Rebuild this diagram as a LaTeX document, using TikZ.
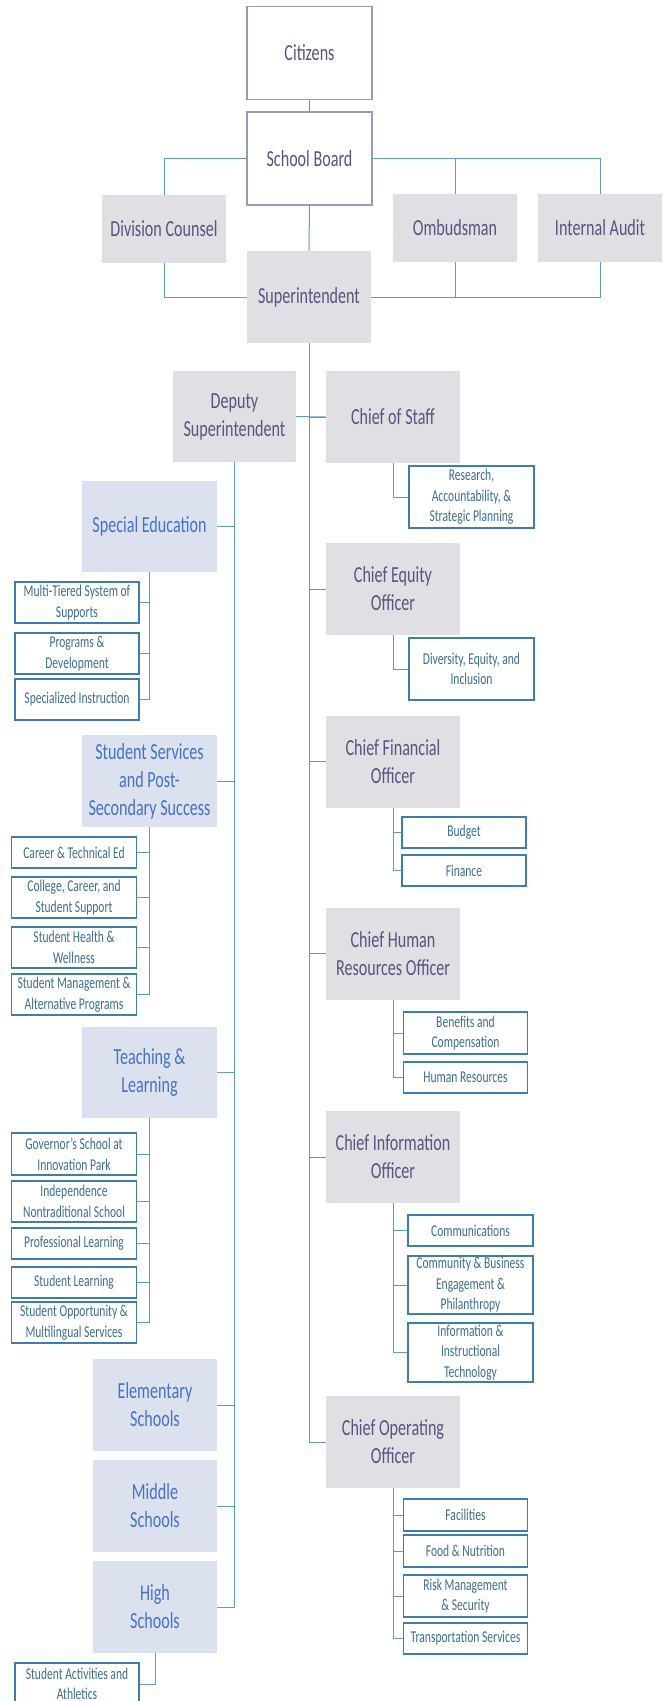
\documentclass[tikz,border=0pt]{standalone}
\usepackage{fontspec}
\setmainfont[FakeStretch=0.7]{Carlito}
\definecolor{linkblue}{HTML}{5B9BD5}
\definecolor{headline}{HTML}{9C99BE}
\definecolor{headtext}{HTML}{57557F}
\definecolor{chieffill}{HTML}{E0DFE4}
\definecolor{unitfill}{HTML}{DCE1F0}
\definecolor{unittext}{HTML}{4472C4}
\definecolor{officeline}{HTML}{3F7DAA}
\definecolor{officetext}{HTML}{3D6F90}
\begin{document}
\begin{tikzpicture}[x=1pt,y=-1pt,
  big/.style={font=\fontsize{23}{28}\selectfont,align=center,inner sep=0pt},
  head/.style={big,draw=headline,line width=1.2pt,fill=white,text=headtext,minimum width=125pt,minimum height=93pt},
  chief/.style={big,fill=chieffill,text=headtext,minimum width=134pt,minimum height=92pt},
  unit/.style={big,fill=unitfill,text=unittext,minimum width=135pt,minimum height=91pt},
  office/.style={draw=officeline,line width=1.1pt,fill=white,text=officetext,font=\fontsize{16.5}{20.5}\selectfont,align=center,inner sep=0pt,minimum width=124pt},
  link/.style={draw=linkblue,line width=1pt}]
\useasboundingbox (0,0) rectangle (665,1701);
% top of the chart
\node[head] (cit) at (309.5,53) {Citizens};
\node[head] (board) at (309.5,158.5) {School Board};
\node[chief,minimum width=124pt,minimum height=68pt] (counsel) at (164,229) {Division Counsel};
\node[chief,minimum width=124pt,minimum height=68pt] (ombud) at (455,228) {Ombudsman};
\node[chief,minimum width=124pt,minimum height=68pt] (audit) at (600,228) {Internal Audit};
\node[chief,minimum width=124pt] (supt) at (309,297) {Superintendent};
\draw[link] (cit) to (board);
\draw[link] (board) to (supt);
\draw[link] (board.west) -| (counsel.north);
\draw[link] (board.east) -| (ombud.north);
\draw[link] (board.east) -| (audit.north);
\draw[link] (counsel.south) |- (supt.west);
\draw[link] (ombud.south) |- (supt.east);
\draw[link] (audit.south) |- (supt.east);
% chiefs
\node[chief,minimum width=123pt,minimum height=91pt] (deputy) at (234.5,416.5) {Deputy\\Superintendent};
\node[chief] (staff) at (393,417) {Chief of Staff};
\node[chief] (equity) at (393,589) {Chief Equity\\Officer};
\node[chief] (cfo) at (393,761.5) {Chief Financial\\Officer};
\node[chief] (chro) at (393,953.5) {Chief Human\\Resources Officer};
\node[chief] (cio) at (393,1157) {Chief Information\\Officer};
\node[chief] (coo) at (393,1442) {Chief Operating\\Officer};
\draw[link] (deputy.east) to (staff.west);
\foreach \c in {staff,equity,cfo,chro,cio,coo}
  \draw[link] (supt.south) |- (\c.west);
% offices under the chiefs
\node[office,minimum width=125pt,minimum height=62pt] (research) at (471.5,497) {Research,\\Accountability, \&\\Strategic Planning};
\node[office,minimum width=125pt,minimum height=62pt] (diversity) at (471.5,669) {Diversity, Equity, and\\Inclusion};
\node[office,minimum height=31pt] (budget) at (464,832.5) {Budget};
\node[office,minimum height=31pt] (finance) at (464,870.5) {Finance};
\node[office,minimum height=42pt] (benefits) at (465.5,1033) {Benefits and\\Compensation};
\node[office,minimum height=31pt] (hr) at (465.5,1077.5) {Human Resources};
\node[office,minimum width=125pt,minimum height=31pt] (comms) at (470.5,1230.5) {Communications};
\node[office,minimum width=125pt,minimum height=58pt] (community) at (470.5,1285) {Community \& Business\\Engagement \&\\Philanthropy};
\node[office,minimum width=125pt,minimum height=59pt] (infotech) at (470.5,1352.5) {Information \&\\Instructional\\Technology};
\node[office,minimum height=32pt] (facilities) at (465.5,1515) {Facilities};
\node[office,minimum height=32pt] (food) at (465.5,1551) {Food \& Nutrition};
\node[office,minimum height=42pt] (risk) at (465.5,1596) {Risk Management\\\& Security};
\node[office,minimum height=31pt] (transport) at (465.5,1638.5) {Transportation Services};
\draw[link] (staff.south) |- (research.west);
\draw[link] (equity.south) |- (diversity.west);
\draw[link] (cfo.south) |- (budget.west);
\draw[link] (cfo.south) |- (finance.west);
\draw[link] (chro.south) |- (benefits.west);
\draw[link] (chro.south) |- (hr.west);
\foreach \o in {comms,community,infotech}
  \draw[link] (cio.south) |- (\o.west);
\foreach \o in {facilities,food,risk,transport}
  \draw[link] (coo.south) |- (\o.west);
% units under the deputy
\node[unit] (sped) at (149.5,526.5) {Special Education};
\node[unit,minimum height=92pt] (stusvc) at (149.5,781) {Student Services\\and Post-\\Secondary Success};
\node[unit] (teach) at (149.5,1072.5) {Teaching \&\\Learning};
\node[unit,minimum width=124pt,minimum height=92pt] (elem) at (155,1405) {Elementary\\Schools};
\node[unit,minimum width=124pt,minimum height=92pt] (middle) at (155,1506) {Middle\\Schools};
\node[unit,minimum width=124pt,minimum height=92pt] (high) at (155,1607) {High\\Schools};
\foreach \u in {sped,stusvc,teach,elem,middle,high}
  \draw[link] (deputy.south) |- (\u.east);
% offices under the units
\node[office,minimum height=41pt] (mtss) at (77,602.5) {Multi-Tiered System of\\Supports};
\node[office,minimum height=41pt] (progdev) at (77,653.5) {Programs \&\\Development};
\node[office,minimum height=41pt] (specinst) at (77,699.5) {Specialized Instruction};
\node[office,minimum width=124.5pt,minimum height=31pt] (career) at (74,852.5) {Career \& Technical Ed};
\node[office,minimum width=124.5pt,minimum height=41pt] (college) at (74,897.5) {College, Career, and\\Student Support};
\node[office,minimum width=124.5pt,minimum height=41pt] (health) at (74,947.5) {Student Health \&\\Wellness};
\node[office,minimum width=124.5pt,minimum height=41pt] (mgmt) at (74,994.5) {Student Management \&\\Alternative Programs};
\node[office,minimum width=124.5pt,minimum height=42pt] (governor) at (74,1154) {Governor's School at\\Innovation Park};
\node[office,minimum width=124.5pt,minimum height=41pt] (independence) at (74,1201.5) {Independence\\Nontraditional School};
\node[office,minimum width=124.5pt,minimum height=31pt] (proflearn) at (74,1243.5) {Professional Learning};
\node[office,minimum width=124.5pt,minimum height=31pt] (stulearn) at (74,1282.5) {Student Learning};
\node[office,minimum width=124.5pt,minimum height=41pt] (opportunity) at (74,1322.5) {Student Opportunity \&\\Multilingual Services};
\node[office,minimum height=42pt] (athletics) at (77,1684) {Student Activities and\\Athletics};
\foreach \o in {mtss,progdev,specinst}
  \draw[link] (sped.south) |- (\o.east);
\foreach \o in {career,college,health,mgmt}
  \draw[link] (stusvc.south) |- (\o.east);
\foreach \o in {governor,independence,proflearn,stulearn,opportunity}
  \draw[link] (teach.south) |- (\o.east);
\draw[link] (high.south) |- (athletics.east);
\end{tikzpicture}
\end{document}
